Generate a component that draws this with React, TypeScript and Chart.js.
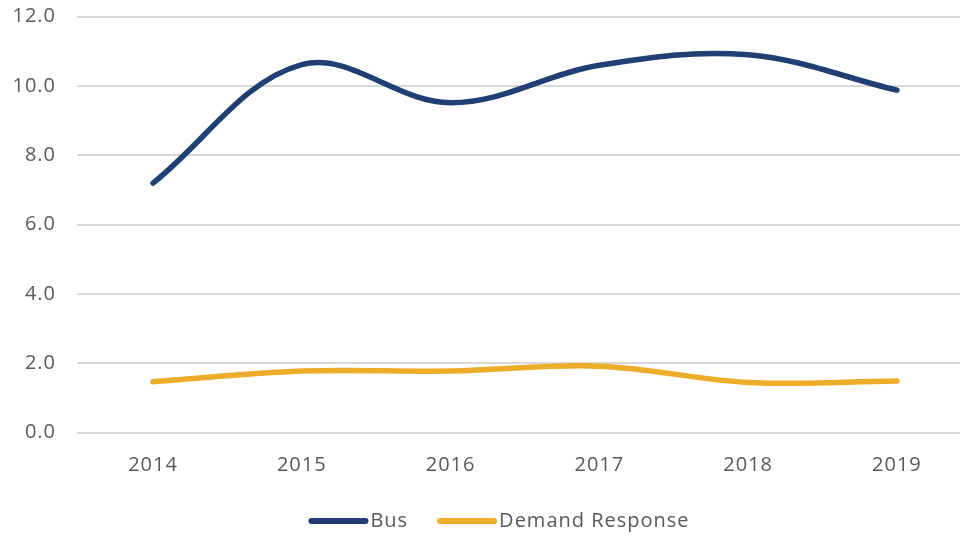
import React, { useEffect, useRef } from 'react';
import { Chart, registerables } from 'chart.js';

Chart.register(...registerables);

const years = ['2014', '2015', '2016', '2017', '2018', '2019'];
const busValues = [7.2, 10.62, 9.52, 10.6, 10.9, 9.88];
const demandResponseValues = [1.47, 1.78, 1.78, 1.92, 1.45, 1.49];
const yTickValues = [0, 2, 4, 6, 8, 10, 12];

const NAVY = '#1f3f75';
const GOLD = '#edad28';
const TEXT = '#595959';
const GRID = '#d9d9d9';
const FONT = "'Open Sans', sans-serif";

export default function App() {
  const ref = useRef<HTMLCanvasElement>(null);

  useEffect(() => {
    const canvas = ref.current;
    if (!canvas) return;

    const textSpacing = {
      id: 'textSpacing',
      beforeDraw(c: any) {
        c.ctx.letterSpacing = '1px';
      },
    };

    const lineLegend = {
      id: 'lineLegend',
      afterDraw(c: any) {
        const ctx = c.ctx;
        ctx.save();
        ctx.font = `20px ${FONT}`;
        ctx.letterSpacing = '1px';
        const sample = 60;
        const gapText = 2;
        const gapItem = 29;
        const items = c.data.datasets.map((ds: any) => ({
          label: ds.label,
          color: ds.borderColor,
          w: ctx.measureText(ds.label).width,
        }));
        const total =
          items.reduce((s: number, it: any) => s + sample + gapText + it.w, 0) +
          gapItem * (items.length - 1);
        let x = 499 - total / 2;
        const y = 521;
        for (const it of items) {
          ctx.beginPath();
          ctx.strokeStyle = it.color;
          ctx.lineWidth = 6;
          ctx.lineCap = 'round';
          ctx.moveTo(x + 3, y);
          ctx.lineTo(x + sample - 3, y);
          ctx.stroke();
          ctx.fillStyle = TEXT;
          ctx.textAlign = 'left';
          ctx.textBaseline = 'middle';
          ctx.fillText(it.label, x + sample + gapText, y);
          x += sample + gapText + it.w + gapItem;
        }
        ctx.restore();
      },
    };

    const chart = new Chart(canvas, {
      type: 'line',
      data: {
        datasets: [
          {
            label: 'Bus',
            data: busValues.map((v, i) => ({ x: i, y: v })),
            borderColor: NAVY,
            backgroundColor: NAVY,
            borderWidth: 5.5,
            borderCapStyle: 'round',
            borderJoinStyle: 'round',
            pointRadius: 0,
            tension: 0.36,
          },
          {
            label: 'Demand Response',
            data: demandResponseValues.map((v, i) => ({ x: i, y: v })),
            borderColor: GOLD,
            backgroundColor: GOLD,
            borderWidth: 5.5,
            borderCapStyle: 'round',
            borderJoinStyle: 'round',
            pointRadius: 0,
            tension: 0.36,
          },
        ],
      },
      options: {
        responsive: false,
        animation: false,
        devicePixelRatio: 1,
        layout: { padding: { top: 16.7, right: 1, bottom: 0, left: 0 } },
        plugins: {
          legend: { display: false },
          tooltip: { enabled: false },
        },
        scales: {
          x: {
            type: 'linear',
            min: -0.511,
            max: 5.424,
            afterBuildTicks: (scale: any) => {
              scale.ticks = years.map((_, i) => ({ value: i }));
            },
            afterFit: (scale: any) => {
              scale.height = 104.3;
              scale.paddingLeft = 0;
              scale.paddingRight = 0;
            },
            grid: { display: false, drawTicks: false },
            border: { display: false },
            ticks: {
              autoSkip: false,
              maxRotation: 0,
              padding: 20.8,
              color: TEXT,
              font: { family: FONT, size: 20 },
              callback: (v: any) => years[v as number] ?? '',
            },
          },
          y: {
            min: 0,
            max: 12,
            afterBuildTicks: (scale: any) => {
              scale.ticks = yTickValues.map((v) => ({ value: v }));
            },
            afterFit: (scale: any) => {
              scale.width = 77;
              scale.paddingTop = 0;
              scale.paddingBottom = 0;
            },
            grid: { color: GRID, lineWidth: 2, drawTicks: false },
            border: { display: false },
            ticks: {
              padding: 21,
              color: TEXT,
              font: { family: FONT, size: 20 },
              callback: (v: any) => Number(v).toFixed(1),
            },
          },
        },
      },
      plugins: [textSpacing, lineLegend],
    } as any);

    return () => chart.destroy();
  }, []);

  return (
    <div style={{ position: 'fixed', left: 0, top: 0, width: 961, height: 537, background: '#fff' }}>
      <canvas ref={ref} width={961} height={537} style={{ display: 'block', width: 961, height: 537 }} />
    </div>
  );
}
